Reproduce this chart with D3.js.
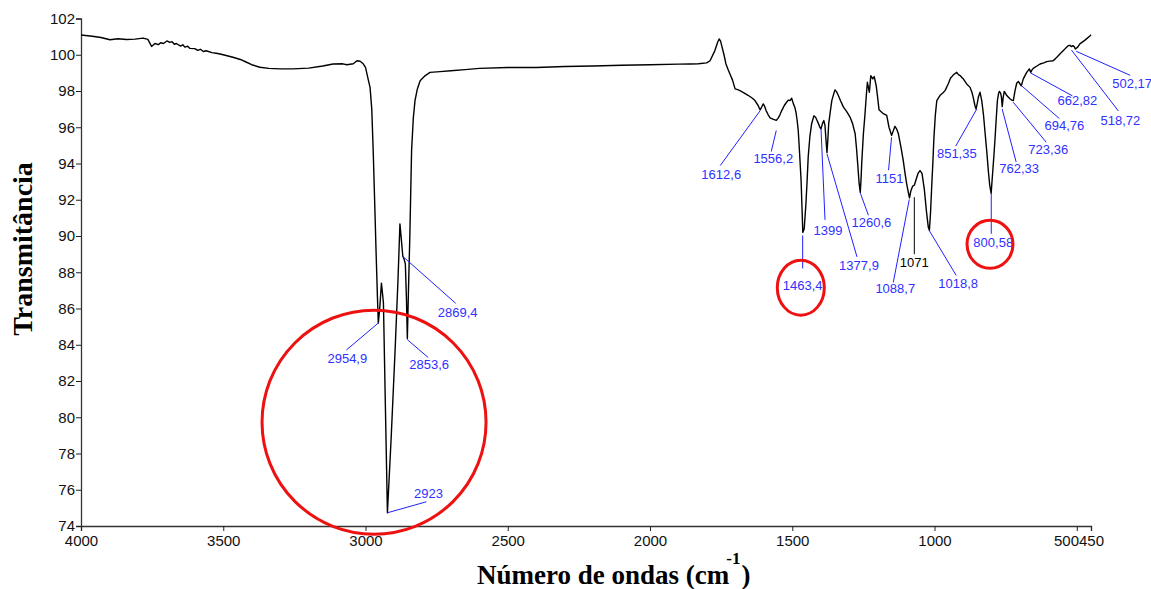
<!DOCTYPE html>
<html>
<head>
<meta charset="utf-8">
<script src="https://cdn.jsdelivr.net/npm/d3@7"></script>
<style>
	body { margin: 0; background: #fff; }
	svg { display: block; }
</style>
</head>
<body>
<div id="container"></div>
<script>

/* Espectro FTIR: numero de ondas (cm-1) e transmitancia (%) */
var numeroOndas = [
	4000, 3960, 3930, 3898, 3870, 3840, 3810, 3782, 3765, 3752, 3740, 3728, 3720, 3710, 3698,
	3688, 3680, 3672, 3665, 3650, 3642, 3635, 3625, 3617, 3600, 3590, 3580, 3570, 3560, 3540,
	3525, 3511, 3490, 3466, 3440, 3420, 3400, 3371, 3340, 3300, 3255, 3200, 3150, 3114, 3080,
	3065, 3043, 3030, 3019, 3008, 3000, 2990, 2984, 2978, 2973, 2968, 2963, 2958, 2955, 2950,
	2944, 2940, 2937, 2930, 2923, 2910, 2896, 2886, 2879, 2874, 2869, 2864, 2860, 2856, 2853,
	2849, 2844, 2838, 2832, 2826, 2818, 2808, 2790, 2773, 2738, 2700, 2650, 2600, 2500, 2400,
	2300, 2200, 2100, 2000, 1900, 1859, 1830, 1801, 1789, 1772, 1762, 1757, 1752, 1748, 1740,
	1733, 1726, 1719, 1710, 1701, 1692, 1684, 1670, 1654, 1640, 1631, 1620, 1613, 1608, 1602,
	1597, 1592, 1585, 1578, 1568, 1561, 1556, 1549, 1543, 1537, 1528, 1520, 1514, 1508, 1502,
	1496, 1491, 1487, 1483, 1479, 1474, 1469, 1465, 1463, 1458, 1452, 1448, 1444, 1438, 1432,
	1424, 1418, 1414, 1408, 1403, 1399, 1394, 1389, 1385, 1381, 1378, 1375, 1372, 1366, 1361,
	1355, 1350, 1344, 1338, 1330, 1320, 1308, 1297, 1288, 1279, 1274, 1270, 1265, 1261, 1258,
	1256, 1250, 1245, 1240, 1236, 1229, 1224, 1217, 1212, 1205, 1200, 1195, 1180, 1168, 1160,
	1151, 1145, 1139, 1133, 1127, 1118, 1110, 1104, 1098, 1092, 1088, 1083, 1077, 1071, 1065,
	1058, 1051, 1044, 1036, 1028, 1022, 1018, 1014, 1010, 1006, 1002, 997, 992, 981, 970,
	963, 952, 944, 936, 929, 922, 916, 910, 904, 899, 887, 875, 868, 864, 858,
	854, 850, 846, 840, 834, 828, 822, 816, 811, 806, 801, 796, 791, 787, 783,
	779, 775, 772, 768, 765, 762, 759, 755, 750, 746, 740, 735, 729, 723, 717,
	711, 705, 700, 695, 692, 688, 682, 676, 670, 667, 662, 658, 653, 640, 629,
	616, 606, 595, 583, 574, 565, 556, 547, 538, 530, 524, 519, 514, 509, 505,
	497, 489, 470, 453, 450
];

var transmitancia = [
	101.09, 101.02, 100.95, 100.83, 100.88, 100.84, 100.86, 100.92, 100.85, 100.46, 100.62, 100.56, 100.66, 100.62, 100.76,
	100.68, 100.72, 100.58, 100.62, 100.48, 100.55, 100.42, 100.47, 100.35, 100.34, 100.24, 100.3, 100.18, 100.22, 100.12,
	100.08, 100.04, 99.96, 99.86, 99.74, 99.6, 99.45, 99.31, 99.25, 99.22, 99.22, 99.26, 99.38, 99.49, 99.5,
	99.45, 99.5, 99.67, 99.64, 99.5, 99.3, 98.6, 98.2, 97.0, 94.72, 92.0, 89.2, 86.6, 85.2, 86.0,
	87.4, 86.8, 86.3, 80.5, 74.73, 78.8, 83.7, 87.5, 90.67, 89.8, 88.9, 88.7, 88.47, 86.5, 84.35,
	87.0, 90.12, 94.72, 96.5, 97.47, 98.1, 98.57, 98.85, 99.03, 99.07, 99.12, 99.18, 99.25, 99.3, 99.3,
	99.35, 99.38, 99.42, 99.45, 99.48, 99.49, 99.5, 99.55, 99.67, 100.23, 100.7, 100.87, 100.75, 100.5, 100.0,
	99.49, 99.2, 98.94, 98.6, 98.12, 98.08, 98.02, 97.9, 97.75, 97.6, 97.47, 97.2, 96.96, 97.1, 97.29,
	97.15, 96.92, 96.7, 96.52, 96.45, 96.41, 96.38, 96.52, 96.7, 96.92, 97.2, 97.38, 97.5, 97.47, 97.6,
	97.29, 97.1, 96.83, 96.4, 95.82, 94.5, 93.06, 91.2, 90.2, 90.4, 91.78, 93.0, 94.35, 95.5, 96.19,
	96.63, 96.55, 96.41, 96.2, 96.0, 95.91, 96.2, 96.37, 96.1, 95.2, 94.6, 95.3, 96.19, 96.9, 97.47,
	97.8, 98.06, 97.95, 97.75, 97.45, 97.11, 96.85, 96.56, 96.2, 95.64, 94.8, 93.98, 92.9, 92.4, 93.2,
	93.98, 95.64, 96.6, 97.7, 98.48, 97.93, 98.85, 98.67, 98.8, 98.3, 97.65, 96.96, 96.75, 96.65, 96.0,
	95.55, 95.8, 96.05, 95.9, 95.64, 94.9, 94.17, 93.5, 92.89, 92.4, 92.1, 92.5, 92.75, 92.8, 93.1,
	93.45, 93.61, 93.45, 92.6, 91.3, 90.5, 90.31, 91.3, 92.7, 94.0, 95.45, 96.7, 97.47, 97.75, 97.9,
	98.02, 98.39, 98.7, 98.85, 98.95, 99.03, 98.9, 98.85, 98.75, 98.67, 98.39, 98.2, 97.9, 97.65, 97.2,
	97.01, 97.3, 97.65, 97.93, 97.47, 96.7, 95.64, 94.6, 93.61, 92.8, 92.35, 93.42, 94.5, 95.45, 96.5,
	97.47, 97.85, 97.98, 97.9, 97.69, 97.14, 97.6, 97.98, 97.85, 97.75, 97.65, 97.57, 97.5, 97.47, 98.02,
	98.44, 98.52, 98.4, 98.29, 98.45, 98.67, 98.85, 99.03, 99.15, 99.22, 99.03, 99.15, 99.25, 99.38, 99.49,
	99.55, 99.62, 99.65, 99.67, 99.8, 99.95, 100.1, 100.23, 100.38, 100.5, 100.52, 100.45, 100.5, 100.45, 100.32,
	100.42, 100.6, 100.82, 101.05, 101.1
];

var ticksX = [4000, 3500, 3000, 2500, 2000, 1500, 1000, 500, 450];
var ticksY = [74, 76, 78, 80, 82, 84, 86, 88, 90, 92, 94, 96, 98, 100, 102];

/* Picos marcados: rotulo, transmitancia no pico */
var picosRotulo = ["2954,9", "2923", "2869,4", "2853,6", "1612,6", "1556,2", "1399", "1377,9", "1463,4", "1260,6", "1151",
	"1088,7", "1071", "1018,8", "800,58", "851,35", "762,33", "723,36", "694,76", "662,82", "518,72", "502,17"];
var picosT = [85.2, 74.73, 88.88, 84.29, 96.92, 95.82, 95.91, 94.53, 90.03, 92.36, 95.45,
	92.02, 92.14, 90.31, 92.33, 97.01, 97.01, 97.38, 98.3, 99.0, 100.26, 100.19];

/* Deslocamento da linha guia e do texto (px) */
var guias = [
	{ dx: -32, dy: 27, tx: 1, ty: 8 },  { dx: 39, dy: -11, tx: 2, ty: -8 }, { dx: 53, dy: 47, tx: 2, ty: 9 },
	{ dx: 21, dy: 18, tx: 1, ty: 7 },   { dx: -40, dy: 55, tx: 1, ty: 9 },  { dx: -5, dy: 21, tx: 2, ty: 7 },
	{ dx: 4, dy: 91, tx: 3, ty: 11 },   { dx: 30, dy: 103, tx: 2, ty: 9 },  { dx: 0, dy: 33, tx: 0, ty: 17 },
	{ dx: 8, dy: 22, tx: 3, ty: 7 },    { dx: -3, dy: 33, tx: 1, ty: 8 },   { dx: -16, dy: 83, tx: 2, ty: 6 },
	{ dx: 0, dy: 57, tx: 0, ty: 8 },    { dx: 27, dy: 45, tx: 2, ty: 8 },   { dx: 0, dy: 40, tx: 2, ty: 9 },
	{ dx: -21, dy: 37, tx: 1, ty: 8 },  { dx: 14, dy: 53, tx: 3, ty: 7 },   { dx: 33, dy: 40, tx: 2, ty: 7 },
	{ dx: 38, dy: 33, tx: 5, ty: 7 },   { dx: 42, dy: 23, tx: 5, ty: 5 },   { dx: 47, dy: 61, tx: 2, ty: 9 },
	{ dx: 54, dy: 24, tx: 2, ty: 8 }
];

/* Destaques em vermelho: centro em dados, raios em px */
var destaques = [
	{ wn: 2970, t: 79.73, rx: 112, ry: 112 },
	{ wn: 1470, t: 87.15, rx: 23.5, ry: 27.5 },
	{ wn: 805, t: 89.54, rx: 23, ry: 24 }
];

window.Espectro = (function () {

	function Espectro() {
		this.width = 1151;
		this.height = 589;
	}

	Espectro.prototype.init = function () {
		var svg = d3.select("#container")
			.append("svg")
			.attr("width", this.width)
			.attr("height", this.height)
			.style("font-family", "Liberation Sans, Arial, sans-serif");

		var x = d3.scaleLinear().domain([4000, 450]).range([81, 1091]);
		var y = d3.scaleLinear().domain([74, 102]).range([526, 18.5]);

		/* eixos */
		var gx = svg.append("g")
			.attr("transform", "translate(0,526)")
			.call(d3.axisBottom(x).tickValues(ticksX).tickSize(5).tickPadding(4).tickFormat(d3.format("d")));
		var gy = svg.append("g")
			.attr("transform", "translate(81,0)")
			.call(d3.axisLeft(y).tickValues(ticksY).tickSize(5).tickPadding(1).tickFormat(d3.format("d")));

		[gx, gy].forEach(function (g) {
			g.select(".domain").attr("stroke", "#333").attr("stroke-width", 1.3);
			g.selectAll(".tick line").attr("stroke", "#222");
			g.selectAll(".tick text").attr("fill", "#111").style("font-size", "15px");
		});

		/* 500 e 450 ficam colados: "500450" */
		var t450 = gx.selectAll(".tick").filter(function (d) { return d === 450; }).select("text");
		var w450 = t450.node().getComputedTextLength();
		gx.selectAll(".tick").filter(function (d) { return d === 500; }).select("text")
			.attr("text-anchor", "end")
			.attr("x", x(450) - w450 / 2 - x(500));

		/* curva */
		var pontos = numeroOndas.map(function (wn, i) { return [wn, transmitancia[i]]; });
		var linha = d3.line()
			.x(function (d) { return x(d[0]); })
			.y(function (d) { return y(d[1]); });

		svg.append("path")
			.datum(pontos)
			.attr("fill", "none")
			.attr("stroke", "#000")
			.attr("stroke-width", 1.4)
			.attr("stroke-linejoin", "round")
			.attr("d", linha);

		/* rotulos dos picos */
		var picos = picosRotulo.map(function (r, i) {
			return { rotulo: r, wn: parseFloat(r.replace(",", ".")), t: picosT[i], g: guias[i] };
		});

		var rot = svg.append("g").selectAll("g")
			.data(picos)
			.enter()
			.append("g");

		rot.append("line")
			.attr("x1", function (d) { return x(d.wn); })
			.attr("y1", function (d) { return y(d.t); })
			.attr("x2", function (d) { return x(d.wn) + d.g.dx; })
			.attr("y2", function (d) { return y(d.t) + d.g.dy; })
			.attr("stroke", function (d) { return d.rotulo === "1071" ? "#000" : "#2020ff"; })
			.attr("stroke-width", 1);

		rot.append("text")
			.attr("x", function (d) { return x(d.wn) + d.g.dx + d.g.tx; })
			.attr("y", function (d) { return y(d.t) + d.g.dy + d.g.ty; })
			.attr("dy", "0.35em")
			.attr("text-anchor", "middle")
			.style("font-size", "13px")
			.attr("fill", function (d) { return d.rotulo === "1071" ? "#000" : "#3030ff"; })
			.text(function (d) { return d.rotulo; });

		/* circulos vermelhos */
		svg.append("g").selectAll("ellipse")
			.data(destaques)
			.enter()
			.append("ellipse")
			.attr("cx", function (d) { return x(d.wn); })
			.attr("cy", function (d) { return y(d.t); })
			.attr("rx", function (d) { return d.rx; })
			.attr("ry", function (d) { return d.ry; })
			.attr("fill", "none")
			.attr("stroke", "#ee1111")
			.attr("stroke-width", 3);

		/* titulos dos eixos */
		var tx = svg.append("text")
			.attr("x", 477)
			.attr("y", 584)
			.style("font-family", "Liberation Serif, Times New Roman, serif")
			.style("font-weight", "bold")
			.style("font-size", "27px")
			.attr("fill", "#000");
		tx.append("tspan").text("Número de ondas (cm");
		tx.append("tspan").attr("dy", -20).attr("dx", -3).style("font-size", "17px").text("-1");
		tx.append("tspan").attr("dy", 20).attr("dx", 1).text(")");

		svg.append("text")
			.attr("transform", "translate(32,249) rotate(-90)")
			.attr("text-anchor", "middle")
			.style("font-family", "Liberation Serif, Times New Roman, serif")
			.style("font-weight", "bold")
			.style("font-size", "28px")
			.attr("fill", "#000")
			.text("Transmitância");
	};

	return Espectro;
})();

window.onload = function () {
	window.Aplicacao = new Espectro();
	Aplicacao.init();
};
</script>
</body>
</html>
